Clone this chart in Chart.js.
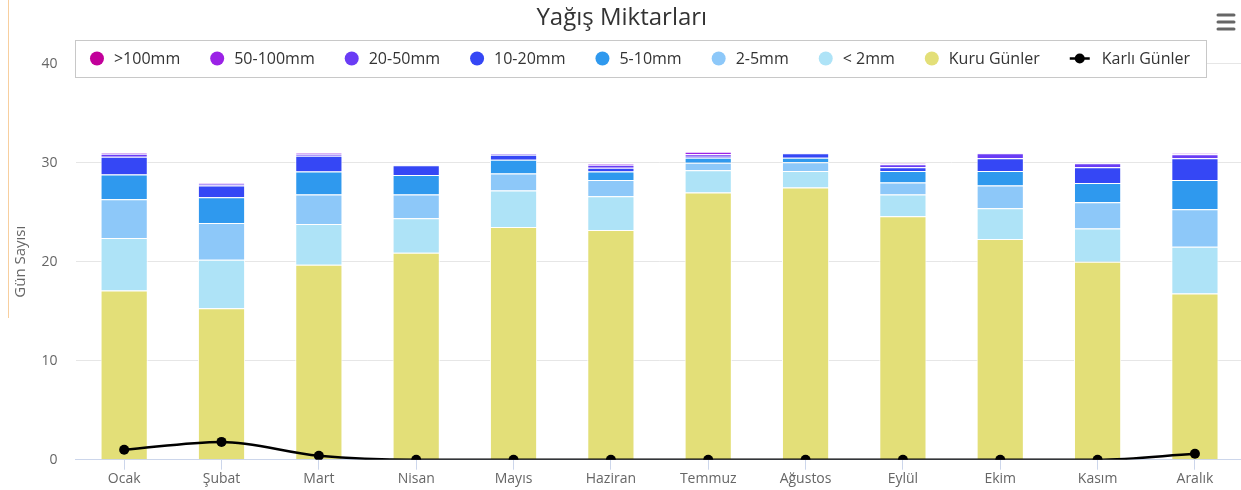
<!DOCTYPE html>
<html>
<head>
<meta charset="utf-8">
<script src="https://cdn.jsdelivr.net/npm/chart.js@4.4.0/dist/chart.umd.min.js"></script>
<style>
  html, body { margin: 0; padding: 0; background: #fff; overflow: hidden; }
  #wrap { position: relative; width: 1250px; height: 490px; }
  #edge { position: absolute; left: 8px; top: 0; width: 1px; height: 318px; background: #f8cf9f; }
</style>
</head>
<body>
<div id="wrap">
  <canvas id="chart" width="1250" height="490"></canvas>
  <div id="edge"></div>
</div>
<script>
// months
const months = ['Ocak', 'Şubat', 'Mart', 'Nisan', 'Mayıs', 'Haziran', 'Temmuz', 'Ağustos', 'Eylül', 'Ekim', 'Kasım', 'Aralık'];

// days per rainfall class (stacked bottom -> top)
const kuru    = [17.1, 15.3, 19.7, 20.9, 23.5, 23.2, 27.0, 27.5, 24.6, 22.3, 20.0, 16.8];
const lt2     = [5.3, 4.9, 4.1, 3.5, 3.7, 3.4, 2.25, 1.65, 2.2, 3.1, 3.35, 4.7];
const r2_5    = [3.9, 3.7, 3.0, 2.4, 1.7, 1.65, 0.75, 0.9, 1.2, 2.3, 2.65, 3.8];
const r5_10   = [2.5, 2.6, 2.3, 1.95, 1.4, 0.85, 0.5, 0.45, 1.15, 1.45, 1.95, 2.95];
const r10_20  = [1.8, 1.2, 1.6, 1.0, 0.5, 0.4, 0.1, 0.45, 0.4, 1.3, 1.6, 2.2];
const r20_50  = [0.3, 0.2, 0.2, 0.05, 0.1, 0.3, 0.25, 0.05, 0.3, 0.5, 0.4, 0.4];
const r50_100 = [0.1, 0.1, 0.1, 0, 0, 0.1, 0.25, 0, 0.1, 0.05, 0.05, 0.1];
const r100    = [0, 0, 0, 0, 0, 0, 0, 0, 0, 0, 0, 0];
// snowy days (line)
const karli   = [1.0, 1.8, 0.4, 0, 0, 0, 0, 0, 0, 0, 0, 0.6];

const yTicks = [0, 10, 20, 30, 40];

const FONT = '"Open Sans", "Noto Sans", sans-serif';

function bar(label, data, color) {
  return { label: label, data: data, backgroundColor: color, borderColor: '#fff', borderWidth: 1,
           stack: 'rain', order: 1, barPercentage: 0.485, categoryPercentage: 1 };
}

const datasets = [
  bar('Kuru Günler', kuru, '#e3df78'),
  bar('< 2mm', lt2, '#aee3f7'),
  bar('2-5mm', r2_5, '#8dc8f9'),
  bar('5-10mm', r5_10, '#2f99ee'),
  bar('10-20mm', r10_20, '#3547f5'),
  bar('20-50mm', r20_50, '#6a3cf5'),
  bar('50-100mm', r50_100, '#9b22e6'),
  bar('>100mm', r100, '#c2009a'),
  { type: 'line', label: 'Karlı Günler', data: karli, borderColor: '#000', backgroundColor: '#000',
    borderWidth: 2.5, pointRadius: 5, pointBackgroundColor: '#000', pointBorderWidth: 0,
    cubicInterpolationMode: 'monotone', stack: 'snow', order: 0 }
];

// legend shown in reverse stack order, line last
const legendOrder = ['>100mm', '50-100mm', '20-50mm', '10-20mm', '5-10mm', '2-5mm', '< 2mm', 'Kuru Günler', 'Karlı Günler'];

const legendBox = {
  id: 'legendBox',
  afterDraw(chart) {
    const ctx = chart.ctx;
    ctx.save();
    ctx.font = '16px ' + FONT;
    const items = legendOrder.map(l => {
      const ds = chart.data.datasets.find(d => d.label === l);
      const isLine = ds.type === 'line';
      const sw = isLine ? 20 : 14;
      const gap = isLine ? 12 : 10;
      return { label: l, color: ds.backgroundColor, isLine: isLine, sw: sw, gap: gap,
               w: sw + gap + ctx.measureText(l).width };
    });
    const between = 30;
    const total = items.reduce((s, it) => s + it.w, 0) + between * (items.length - 1);
    let x = 640 - total / 2;
    const top = 40, h = 37, cy = top + h / 2;
    ctx.fillStyle = '#fff';
    ctx.fillRect(x - 15, top, total + 31, h);
    ctx.strokeStyle = '#c8c8c8';
    ctx.lineWidth = 1;
    ctx.strokeRect(Math.round(x - 15) + 0.5, top + 0.5, Math.round(total + 31), h);
    ctx.textBaseline = 'middle';
    items.forEach(it => {
      if (it.isLine) {
        ctx.strokeStyle = '#000';
        ctx.lineWidth = 2.5;
        ctx.beginPath(); ctx.moveTo(x, cy); ctx.lineTo(x + it.sw, cy); ctx.stroke();
        ctx.fillStyle = '#000';
        ctx.beginPath(); ctx.arc(x + it.sw / 2, cy, 5, 0, Math.PI * 2); ctx.fill();
      } else {
        ctx.fillStyle = it.color;
        ctx.beginPath(); ctx.arc(x + 7, cy, 7, 0, Math.PI * 2); ctx.fill();
      }
      ctx.fillStyle = '#333';
      ctx.fillText(it.label, x + it.sw + it.gap, cy + 1);
      x += it.w + between;
    });
    // menu icon
    ctx.strokeStyle = '#666';
    ctx.lineWidth = 3;
    ctx.lineCap = 'round';
    [15, 22, 29].forEach(y => {
      ctx.beginPath(); ctx.moveTo(1218, y); ctx.lineTo(1234, y); ctx.stroke();
    });
    ctx.restore();
  }
};

new Chart(document.getElementById('chart').getContext('2d'), {
  type: 'bar',
  data: { labels: months, datasets: datasets },
  options: {
    responsive: false,
    animation: false,
    layout: { padding: { left: 0, right: 6.4, top: 0, bottom: 0 } },
    plugins: {
      legend: { display: false },
      tooltip: { enabled: false },
      title: { display: true, text: 'Yağış Miktarları', color: '#333',
               font: { family: FONT, size: 24, weight: 'normal' }, padding: { top: 3.6, bottom: 31.3 } }
    },
    scales: {
      x: {
        stacked: true,
        offset: true,
        grid: { drawOnChartArea: false, drawTicks: true, tickLength: 10, offset: false, color: '#ccd6eb' },
        border: { color: '#ccd6eb' },
        ticks: { color: '#666', font: { family: FONT, size: 14 }, padding: 1, maxRotation: 0, autoSkip: false },
        afterFit(s) { s.height = 30.3; }
      },
      y: {
        stacked: true,
        min: yTicks[0],
        max: yTicks[yTicks.length - 1],
        afterBuildTicks(s) { s.ticks = yTicks.map(v => ({ value: v })); },
        grid: { color: '#e6e6e6', drawTicks: false },
        border: { display: false },
        ticks: { color: '#666', font: { family: FONT, size: 14 }, padding: 18 },
        title: { display: true, text: 'Gün Sayısı', color: '#666', font: { family: FONT, size: 15 },
                 padding: { top: 12, bottom: 0 } },
        afterFit(s) { s.width = 75.5; }
      }
    }
  },
  plugins: [legendBox]
});
</script>
</body>
</html>
